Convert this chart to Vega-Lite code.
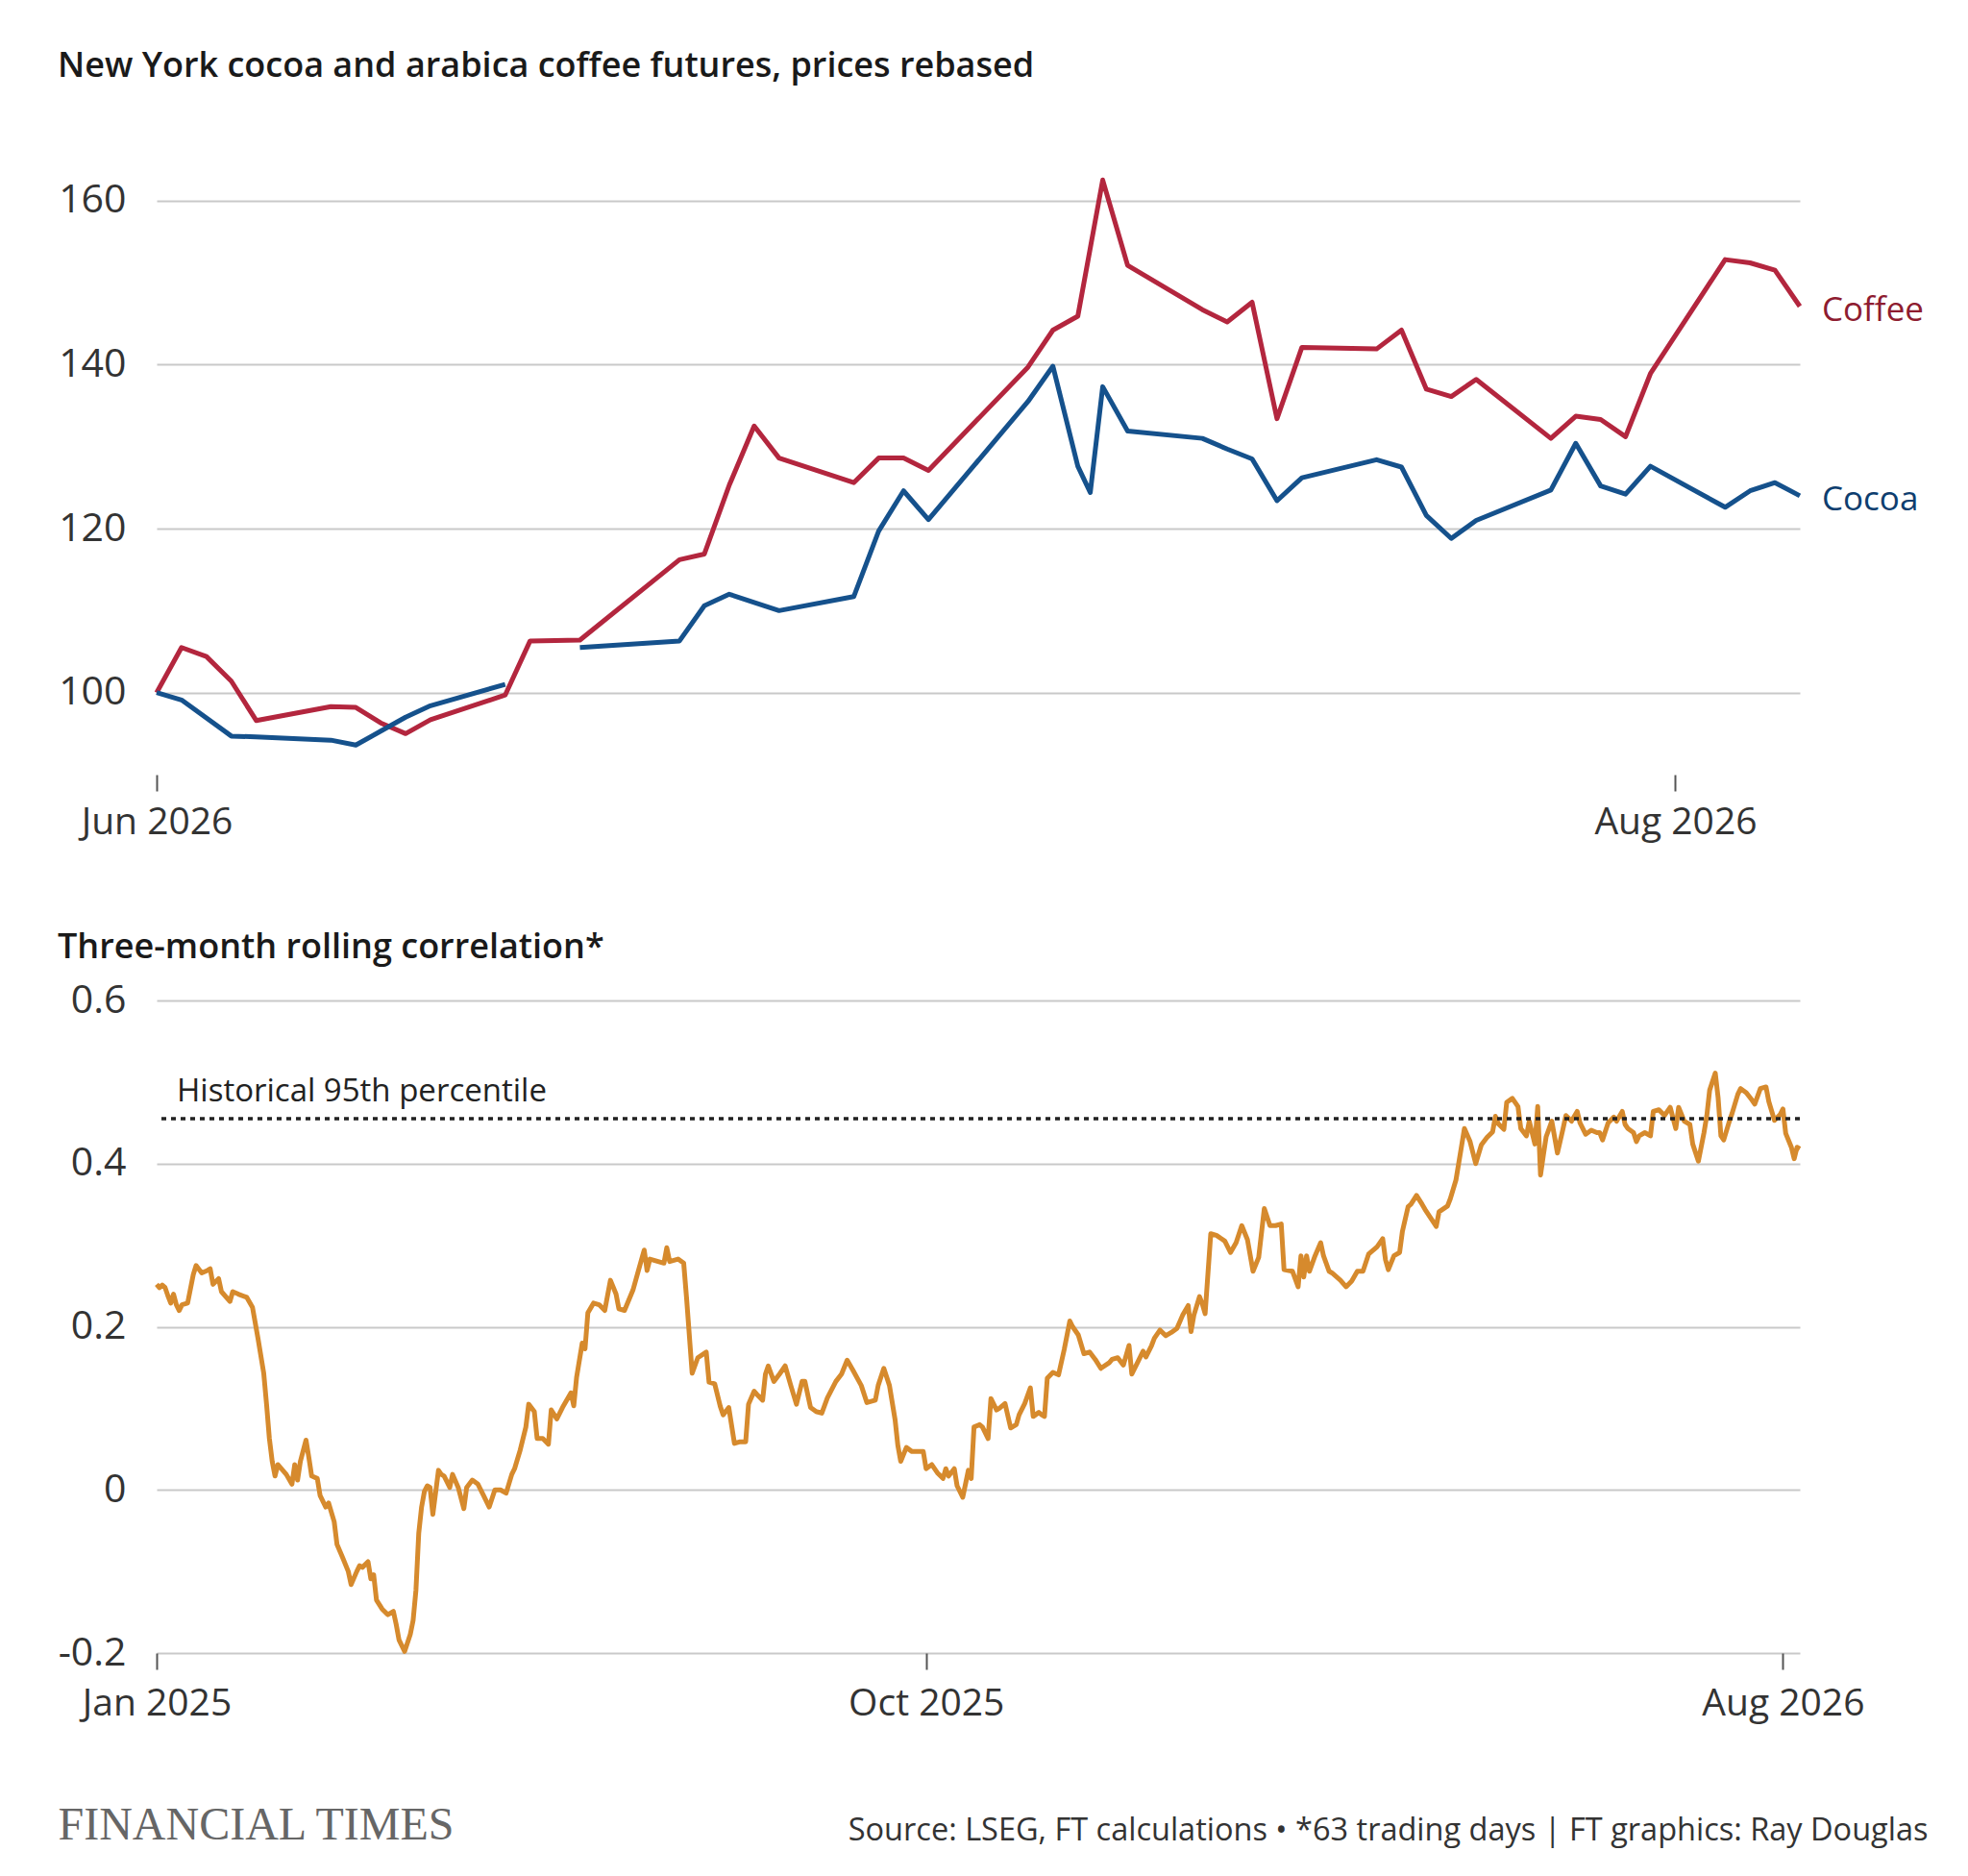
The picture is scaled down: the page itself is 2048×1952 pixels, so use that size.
{
  "$schema": "https://vega.github.io/schema/vega-lite/v6.json",
  "background": "white",
  "padding": {"left": 60, "top": 51, "right": 40, "bottom": 30},
  "bounds": "flush",
  "spacing": 235,
  "config": {
    "font": "Open Sans",
    "view": {"stroke": null},
    "axis": {"labelFont": "Open Sans", "labelFlush": false, "labelOverlap": false, "labelBound": false}
  },
  "vconcat": [
    {
      "width": 1710,
      "height": 640,
      "title": {
        "text": "New York cocoa and arabica coffee futures, prices rebased",
        "anchor": "start",
        "frame": "group",
        "dx": -103,
        "offset": 50,
        "baseline": "alphabetic",
        "font": "Open Sans",
        "fontSize": 36,
        "fontWeight": 600,
        "color": "#1a1a1a"
      },
      "data": {
        "values": [
          {"date": "2026-06-01", "series": "Coffee", "value": 100},
          {"date": "2026-06-02", "series": "Coffee", "value": 105.5},
          {"date": "2026-06-03", "series": "Coffee", "value": 104.4},
          {"date": "2026-06-04", "series": "Coffee", "value": 101.4},
          {"date": "2026-06-05", "series": "Coffee", "value": 96.6},
          {"date": "2026-06-08", "series": "Coffee", "value": 98.3},
          {"date": "2026-06-09", "series": "Coffee", "value": 98.2},
          {"date": "2026-06-10", "series": "Coffee", "value": 96.3},
          {"date": "2026-06-11", "series": "Coffee", "value": 95.0},
          {"date": "2026-06-12", "series": "Coffee", "value": 96.7},
          {"date": "2026-06-15", "series": "Coffee", "value": 99.7},
          {"date": "2026-06-16", "series": "Coffee", "value": 106.3},
          {"date": "2026-06-18", "series": "Coffee", "value": 106.4},
          {"date": "2026-06-22", "series": "Coffee", "value": 116.2},
          {"date": "2026-06-23", "series": "Coffee", "value": 116.9},
          {"date": "2026-06-24", "series": "Coffee", "value": 125.3},
          {"date": "2026-06-25", "series": "Coffee", "value": 132.5},
          {"date": "2026-06-26", "series": "Coffee", "value": 128.6},
          {"date": "2026-06-29", "series": "Coffee", "value": 125.6},
          {"date": "2026-06-30", "series": "Coffee", "value": 128.6},
          {"date": "2026-07-01", "series": "Coffee", "value": 128.6},
          {"date": "2026-07-02", "series": "Coffee", "value": 127.1},
          {"date": "2026-07-06", "series": "Coffee", "value": 139.7},
          {"date": "2026-07-07", "series": "Coffee", "value": 144.2},
          {"date": "2026-07-08", "series": "Coffee", "value": 145.9},
          {"date": "2026-07-09", "series": "Coffee", "value": 162.5},
          {"date": "2026-07-10", "series": "Coffee", "value": 152.1},
          {"date": "2026-07-13", "series": "Coffee", "value": 146.7},
          {"date": "2026-07-14", "series": "Coffee", "value": 145.2},
          {"date": "2026-07-15", "series": "Coffee", "value": 147.6},
          {"date": "2026-07-16", "series": "Coffee", "value": 133.4},
          {"date": "2026-07-17", "series": "Coffee", "value": 142.1},
          {"date": "2026-07-20", "series": "Coffee", "value": 141.9},
          {"date": "2026-07-21", "series": "Coffee", "value": 144.2},
          {"date": "2026-07-22", "series": "Coffee", "value": 137.0},
          {"date": "2026-07-23", "series": "Coffee", "value": 136.1},
          {"date": "2026-07-24", "series": "Coffee", "value": 138.2},
          {"date": "2026-07-27", "series": "Coffee", "value": 131.0},
          {"date": "2026-07-28", "series": "Coffee", "value": 133.7},
          {"date": "2026-07-29", "series": "Coffee", "value": 133.3},
          {"date": "2026-07-30", "series": "Coffee", "value": 131.2},
          {"date": "2026-07-31", "series": "Coffee", "value": 138.9},
          {"date": "2026-08-03", "series": "Coffee", "value": 152.8},
          {"date": "2026-08-04", "series": "Coffee", "value": 152.4},
          {"date": "2026-08-05", "series": "Coffee", "value": 151.5},
          {"date": "2026-08-06", "series": "Coffee", "value": 147.1},
          {"date": "2026-06-01", "series": "Cocoa", "value": 100},
          {"date": "2026-06-02", "series": "Cocoa", "value": 99.1},
          {"date": "2026-06-04", "series": "Cocoa", "value": 94.7},
          {"date": "2026-06-05", "series": "Cocoa", "value": 94.6},
          {"date": "2026-06-08", "series": "Cocoa", "value": 94.2},
          {"date": "2026-06-09", "series": "Cocoa", "value": 93.6},
          {"date": "2026-06-10", "series": "Cocoa", "value": 95.3},
          {"date": "2026-06-11", "series": "Cocoa", "value": 97.0},
          {"date": "2026-06-12", "series": "Cocoa", "value": 98.4},
          {"date": "2026-06-15", "series": "Cocoa", "value": 101.0},
          {"date": "2026-06-16", "series": "Cocoa", "value": null},
          {"date": "2026-06-18", "series": "Cocoa", "value": 105.5},
          {"date": "2026-06-22", "series": "Cocoa", "value": 106.3},
          {"date": "2026-06-23", "series": "Cocoa", "value": 110.6},
          {"date": "2026-06-24", "series": "Cocoa", "value": 112.0},
          {"date": "2026-06-25", "series": "Cocoa", "value": 111.0},
          {"date": "2026-06-26", "series": "Cocoa", "value": 110.0},
          {"date": "2026-06-29", "series": "Cocoa", "value": 111.7},
          {"date": "2026-06-30", "series": "Cocoa", "value": 119.7},
          {"date": "2026-07-01", "series": "Cocoa", "value": 124.6},
          {"date": "2026-07-02", "series": "Cocoa", "value": 121.1},
          {"date": "2026-07-06", "series": "Cocoa", "value": 135.5},
          {"date": "2026-07-07", "series": "Cocoa", "value": 139.8},
          {"date": "2026-07-08", "series": "Cocoa", "value": 127.6},
          {"date": "2026-07-08T12:00:00Z", "series": "Cocoa", "value": 124.4},
          {"date": "2026-07-09", "series": "Cocoa", "value": 137.3},
          {"date": "2026-07-10", "series": "Cocoa", "value": 131.9},
          {"date": "2026-07-13", "series": "Cocoa", "value": 131.0},
          {"date": "2026-07-14", "series": "Cocoa", "value": 129.7},
          {"date": "2026-07-15", "series": "Cocoa", "value": 128.5},
          {"date": "2026-07-16", "series": "Cocoa", "value": 123.4},
          {"date": "2026-07-17", "series": "Cocoa", "value": 126.2},
          {"date": "2026-07-20", "series": "Cocoa", "value": 128.4},
          {"date": "2026-07-21", "series": "Cocoa", "value": 127.5},
          {"date": "2026-07-22", "series": "Cocoa", "value": 121.6},
          {"date": "2026-07-23", "series": "Cocoa", "value": 118.8},
          {"date": "2026-07-24", "series": "Cocoa", "value": 121.0},
          {"date": "2026-07-27", "series": "Cocoa", "value": 124.7},
          {"date": "2026-07-28", "series": "Cocoa", "value": 130.4},
          {"date": "2026-07-29", "series": "Cocoa", "value": 125.2},
          {"date": "2026-07-30", "series": "Cocoa", "value": 124.2},
          {"date": "2026-07-31", "series": "Cocoa", "value": 127.6},
          {"date": "2026-08-03", "series": "Cocoa", "value": 122.6},
          {"date": "2026-08-04", "series": "Cocoa", "value": 124.6},
          {"date": "2026-08-05", "series": "Cocoa", "value": 125.6},
          {"date": "2026-08-06", "series": "Cocoa", "value": 124.0}
        ]
      },
      "layer": [
        {
          "mark": {"type": "line", "strokeWidth": 5, "strokeJoin": "round", "invalid": "break-paths-show-domains"},
          "encoding": {
            "x": {
              "field": "date",
              "type": "temporal",
              "scale": {"type": "utc", "domain": [{"year": 2026, "month": 6, "date": 1, "utc": true}, {"year": 2026, "month": 8, "date": 6, "utc": true}]},
              "axis": {
                "values": [{"year": 2026, "month": 6, "date": 1, "utc": true}, {"year": 2026, "month": 8, "date": 1, "utc": true}],
                "format": "%b %Y",
                "title": null,
                "domain": false,
                "grid": false,
                "tickSize": 17,
                "tickWidth": 2,
                "tickColor": "#555555",
                "labelFontSize": 39,
                "labelColor": "#333333",
                "labelPadding": 13
              }
            },
            "y": {
              "field": "value",
              "type": "quantitative",
              "scale": {"domain": [90, 165], "nice": false, "zero": false},
              "axis": {
                "values": [100, 120, 140, 160],
                "title": null,
                "domain": false,
                "ticks": false,
                "gridColor": "#c9c9c9",
                "gridWidth": 2,
                "labelFontSize": 41,
                "labelColor": "#333333",
                "labelPadding": 32
              }
            },
            "color": {
              "field": "series",
              "type": "nominal",
              "scale": {"domain": ["Coffee", "Cocoa"], "range": ["#b3263e", "#15518c"]},
              "legend": null
            }
          }
        },
        {
          "transform": [{"filter": "time(datum.date) == utc(2026, 7, 6)"}],
          "mark": {"type": "text", "align": "left", "baseline": "middle", "dx": 23, "dy": 4, "fontSize": 35, "font": "Open Sans"},
          "encoding": {
            "x": {"field": "date", "type": "temporal"},
            "y": {"field": "value", "type": "quantitative"},
            "text": {"field": "series"},
            "color": {"condition": {"test": "datum.series == 'Coffee'", "value": "#8e1c30"}, "value": "#0e3e6f"}
          }
        }
      ]
    },
    {
      "width": 1710,
      "height": 679,
      "title": {
        "text": "Three-month rolling correlation*",
        "anchor": "start",
        "frame": "group",
        "dx": -103,
        "offset": -13,
        "baseline": "alphabetic",
        "font": "Open Sans",
        "fontSize": 36,
        "fontWeight": 600,
        "color": "#1a1a1a"
      },
      "layer": [
        {
          "data": {
            "values": [
              {"d": "2025-01-01", "r": 0.252}, {"d": "2025-01-02", "r": 0.248}, {"d": "2025-01-03", "r": 0.251}, {"d": "2025-01-04", "r": 0.248},
              {"d": "2025-01-05", "r": 0.238}, {"d": "2025-01-06", "r": 0.229}, {"d": "2025-01-07", "r": 0.240}, {"d": "2025-01-08", "r": 0.227},
              {"d": "2025-01-09", "r": 0.220}, {"d": "2025-01-10", "r": 0.227}, {"d": "2025-01-12", "r": 0.229}, {"d": "2025-01-14", "r": 0.264},
              {"d": "2025-01-15", "r": 0.275}, {"d": "2025-01-17", "r": 0.266}, {"d": "2025-01-19", "r": 0.269}, {"d": "2025-01-20", "r": 0.271},
              {"d": "2025-01-21", "r": 0.252}, {"d": "2025-01-23", "r": 0.259}, {"d": "2025-01-24", "r": 0.243}, {"d": "2025-01-27", "r": 0.231},
              {"d": "2025-01-28", "r": 0.243}, {"d": "2025-01-30", "r": 0.240}, {"d": "2025-02-02", "r": 0.236}, {"d": "2025-02-04", "r": 0.224},
              {"d": "2025-02-06", "r": 0.185}, {"d": "2025-02-08", "r": 0.143}, {"d": "2025-02-09", "r": 0.105}, {"d": "2025-02-10", "r": 0.063},
              {"d": "2025-02-11", "r": 0.035}, {"d": "2025-02-12", "r": 0.017}, {"d": "2025-02-13", "r": 0.031}, {"d": "2025-02-16", "r": 0.019},
              {"d": "2025-02-18", "r": 0.007}, {"d": "2025-02-19", "r": 0.031}, {"d": "2025-02-20", "r": 0.012}, {"d": "2025-02-21", "r": 0.035},
              {"d": "2025-02-23", "r": 0.061}, {"d": "2025-02-24", "r": 0.040}, {"d": "2025-02-25", "r": 0.017}, {"d": "2025-02-27", "r": 0.014},
              {"d": "2025-02-28", "r": -0.007}, {"d": "2025-03-02", "r": -0.021}, {"d": "2025-03-03", "r": -0.016}, {"d": "2025-03-05", "r": -0.039},
              {"d": "2025-03-06", "r": -0.067}, {"d": "2025-03-08", "r": -0.083}, {"d": "2025-03-10", "r": -0.100}, {"d": "2025-03-11", "r": -0.116},
              {"d": "2025-03-13", "r": -0.100}, {"d": "2025-03-14", "r": -0.093}, {"d": "2025-03-15", "r": -0.095}, {"d": "2025-03-17", "r": -0.088},
              {"d": "2025-03-18", "r": -0.109}, {"d": "2025-03-19", "r": -0.104}, {"d": "2025-03-20", "r": -0.135}, {"d": "2025-03-22", "r": -0.146},
              {"d": "2025-03-24", "r": -0.153}, {"d": "2025-03-26", "r": -0.149}, {"d": "2025-03-27", "r": -0.165}, {"d": "2025-03-28", "r": -0.184},
              {"d": "2025-03-30", "r": -0.198}, {"d": "2025-04-01", "r": -0.177}, {"d": "2025-04-02", "r": -0.160}, {"d": "2025-04-03", "r": -0.123},
              {"d": "2025-04-04", "r": -0.053}, {"d": "2025-04-05", "r": -0.021}, {"d": "2025-04-06", "r": -0.002}, {"d": "2025-04-07", "r": 0.005},
              {"d": "2025-04-08", "r": 0.003}, {"d": "2025-04-09", "r": -0.030}, {"d": "2025-04-11", "r": 0.024}, {"d": "2025-04-12", "r": 0.019},
              {"d": "2025-04-13", "r": 0.017}, {"d": "2025-04-15", "r": 0.003}, {"d": "2025-04-16", "r": 0.019}, {"d": "2025-04-18", "r": 0.003},
              {"d": "2025-04-20", "r": -0.023}, {"d": "2025-04-21", "r": 0.003}, {"d": "2025-04-23", "r": 0.012}, {"d": "2025-04-25", "r": 0.007},
              {"d": "2025-04-27", "r": -0.007}, {"d": "2025-04-29", "r": -0.021}, {"d": "2025-05-01", "r": 0.000}, {"d": "2025-05-03", "r": 0.000},
              {"d": "2025-05-05", "r": -0.004}, {"d": "2025-05-07", "r": 0.019}, {"d": "2025-05-08", "r": 0.026}, {"d": "2025-05-10", "r": 0.049},
              {"d": "2025-05-12", "r": 0.077}, {"d": "2025-05-13", "r": 0.105}, {"d": "2025-05-15", "r": 0.096}, {"d": "2025-05-16", "r": 0.063},
              {"d": "2025-05-18", "r": 0.063}, {"d": "2025-05-20", "r": 0.056}, {"d": "2025-05-21", "r": 0.098}, {"d": "2025-05-23", "r": 0.087},
              {"d": "2025-05-25", "r": 0.101}, {"d": "2025-05-28", "r": 0.119}, {"d": "2025-05-29", "r": 0.103}, {"d": "2025-05-30", "r": 0.138},
              {"d": "2025-06-01", "r": 0.180}, {"d": "2025-06-02", "r": 0.173}, {"d": "2025-06-03", "r": 0.217}, {"d": "2025-06-05", "r": 0.229},
              {"d": "2025-06-07", "r": 0.227}, {"d": "2025-06-09", "r": 0.220}, {"d": "2025-06-11", "r": 0.257}, {"d": "2025-06-13", "r": 0.240},
              {"d": "2025-06-14", "r": 0.222}, {"d": "2025-06-16", "r": 0.220}, {"d": "2025-06-19", "r": 0.245}, {"d": "2025-06-22", "r": 0.282},
              {"d": "2025-06-23", "r": 0.294}, {"d": "2025-06-24", "r": 0.269}, {"d": "2025-06-25", "r": 0.283}, {"d": "2025-06-30", "r": 0.278},
              {"d": "2025-07-01", "r": 0.297}, {"d": "2025-07-02", "r": 0.280}, {"d": "2025-07-05", "r": 0.283}, {"d": "2025-07-07", "r": 0.278},
              {"d": "2025-07-08", "r": 0.236}, {"d": "2025-07-10", "r": 0.143}, {"d": "2025-07-12", "r": 0.162}, {"d": "2025-07-15", "r": 0.169},
              {"d": "2025-07-16", "r": 0.132}, {"d": "2025-07-18", "r": 0.130}, {"d": "2025-07-20", "r": 0.102}, {"d": "2025-07-21", "r": 0.092},
              {"d": "2025-07-23", "r": 0.101}, {"d": "2025-07-25", "r": 0.057}, {"d": "2025-07-27", "r": 0.059}, {"d": "2025-07-29", "r": 0.059},
              {"d": "2025-07-30", "r": 0.105}, {"d": "2025-08-01", "r": 0.121}, {"d": "2025-08-02", "r": 0.117}, {"d": "2025-08-04", "r": 0.110},
              {"d": "2025-08-05", "r": 0.142}, {"d": "2025-08-06", "r": 0.152}, {"d": "2025-08-08", "r": 0.133}, {"d": "2025-08-10", "r": 0.142},
              {"d": "2025-08-12", "r": 0.152}, {"d": "2025-08-14", "r": 0.128}, {"d": "2025-08-16", "r": 0.105}, {"d": "2025-08-18", "r": 0.133},
              {"d": "2025-08-19", "r": 0.133}, {"d": "2025-08-21", "r": 0.101}, {"d": "2025-08-23", "r": 0.096}, {"d": "2025-08-25", "r": 0.094},
              {"d": "2025-08-27", "r": 0.113}, {"d": "2025-08-30", "r": 0.133}, {"d": "2025-09-01", "r": 0.142}, {"d": "2025-09-03", "r": 0.159},
              {"d": "2025-09-05", "r": 0.147}, {"d": "2025-09-08", "r": 0.128}, {"d": "2025-09-10", "r": 0.107}, {"d": "2025-09-13", "r": 0.110},
              {"d": "2025-09-14", "r": 0.128}, {"d": "2025-09-16", "r": 0.149}, {"d": "2025-09-18", "r": 0.128}, {"d": "2025-09-20", "r": 0.086},
              {"d": "2025-09-21", "r": 0.054}, {"d": "2025-09-22", "r": 0.035}, {"d": "2025-09-24", "r": 0.052}, {"d": "2025-09-26", "r": 0.047},
              {"d": "2025-09-30", "r": 0.047}, {"d": "2025-10-01", "r": 0.026}, {"d": "2025-10-03", "r": 0.031}, {"d": "2025-10-05", "r": 0.021},
              {"d": "2025-10-07", "r": 0.014}, {"d": "2025-10-08", "r": 0.026}, {"d": "2025-10-09", "r": 0.017}, {"d": "2025-10-11", "r": 0.026},
              {"d": "2025-10-12", "r": 0.005}, {"d": "2025-10-14", "r": -0.009}, {"d": "2025-10-16", "r": 0.024}, {"d": "2025-10-17", "r": 0.014},
              {"d": "2025-10-18", "r": 0.077}, {"d": "2025-10-20", "r": 0.080}, {"d": "2025-10-21", "r": 0.077}, {"d": "2025-10-23", "r": 0.063},
              {"d": "2025-10-24", "r": 0.112}, {"d": "2025-10-26", "r": 0.098}, {"d": "2025-10-27", "r": 0.100}, {"d": "2025-10-29", "r": 0.106},
              {"d": "2025-10-31", "r": 0.076}, {"d": "2025-11-02", "r": 0.080}, {"d": "2025-11-03", "r": 0.092}, {"d": "2025-11-05", "r": 0.106},
              {"d": "2025-11-07", "r": 0.125}, {"d": "2025-11-08", "r": 0.090}, {"d": "2025-11-10", "r": 0.095}, {"d": "2025-11-11", "r": 0.092},
              {"d": "2025-11-12", "r": 0.090}, {"d": "2025-11-13", "r": 0.137}, {"d": "2025-11-15", "r": 0.144}, {"d": "2025-11-17", "r": 0.141},
              {"d": "2025-11-19", "r": 0.172}, {"d": "2025-11-21", "r": 0.207}, {"d": "2025-11-22", "r": 0.200}, {"d": "2025-11-24", "r": 0.190},
              {"d": "2025-11-26", "r": 0.167}, {"d": "2025-11-28", "r": 0.169}, {"d": "2025-11-30", "r": 0.160}, {"d": "2025-12-02", "r": 0.149},
              {"d": "2025-12-05", "r": 0.156}, {"d": "2025-12-06", "r": 0.160}, {"d": "2025-12-08", "r": 0.162}, {"d": "2025-12-10", "r": 0.153},
              {"d": "2025-12-12", "r": 0.177}, {"d": "2025-12-13", "r": 0.142}, {"d": "2025-12-15", "r": 0.156}, {"d": "2025-12-17", "r": 0.170},
              {"d": "2025-12-18", "r": 0.163}, {"d": "2025-12-20", "r": 0.177}, {"d": "2025-12-21", "r": 0.186}, {"d": "2025-12-23", "r": 0.196},
              {"d": "2025-12-25", "r": 0.189}, {"d": "2025-12-27", "r": 0.193}, {"d": "2025-12-29", "r": 0.198}, {"d": "2025-12-31", "r": 0.214},
              {"d": "2026-01-02", "r": 0.226}, {"d": "2026-01-03", "r": 0.194}, {"d": "2026-01-04", "r": 0.214}, {"d": "2026-01-06", "r": 0.237},
              {"d": "2026-01-07", "r": 0.228}, {"d": "2026-01-08", "r": 0.216}, {"d": "2026-01-10", "r": 0.314}, {"d": "2026-01-12", "r": 0.312},
              {"d": "2026-01-15", "r": 0.305}, {"d": "2026-01-17", "r": 0.291}, {"d": "2026-01-19", "r": 0.303}, {"d": "2026-01-21", "r": 0.324},
              {"d": "2026-01-23", "r": 0.307}, {"d": "2026-01-25", "r": 0.268}, {"d": "2026-01-27", "r": 0.285}, {"d": "2026-01-29", "r": 0.345},
              {"d": "2026-01-31", "r": 0.324}, {"d": "2026-02-02", "r": 0.324}, {"d": "2026-02-04", "r": 0.326}, {"d": "2026-02-05", "r": 0.270},
              {"d": "2026-02-08", "r": 0.268}, {"d": "2026-02-10", "r": 0.249}, {"d": "2026-02-11", "r": 0.287}, {"d": "2026-02-12", "r": 0.261},
              {"d": "2026-02-13", "r": 0.287}, {"d": "2026-02-14", "r": 0.268}, {"d": "2026-02-16", "r": 0.287}, {"d": "2026-02-18", "r": 0.303},
              {"d": "2026-02-19", "r": 0.287}, {"d": "2026-02-21", "r": 0.268}, {"d": "2026-02-22", "r": 0.266}, {"d": "2026-02-25", "r": 0.257},
              {"d": "2026-02-27", "r": 0.249}, {"d": "2026-03-01", "r": 0.256}, {"d": "2026-03-03", "r": 0.268}, {"d": "2026-03-05", "r": 0.268},
              {"d": "2026-03-07", "r": 0.289}, {"d": "2026-03-10", "r": 0.298}, {"d": "2026-03-12", "r": 0.308}, {"d": "2026-03-13", "r": 0.282},
              {"d": "2026-03-14", "r": 0.270}, {"d": "2026-03-16", "r": 0.287}, {"d": "2026-03-18", "r": 0.291}, {"d": "2026-03-19", "r": 0.317},
              {"d": "2026-03-21", "r": 0.347}, {"d": "2026-03-22", "r": 0.350}, {"d": "2026-03-24", "r": 0.361}, {"d": "2026-03-26", "r": 0.350},
              {"d": "2026-03-27", "r": 0.344}, {"d": "2026-03-31", "r": 0.323}, {"d": "2026-04-01", "r": 0.341}, {"d": "2026-04-04", "r": 0.348},
              {"d": "2026-04-05", "r": 0.357}, {"d": "2026-04-07", "r": 0.380}, {"d": "2026-04-09", "r": 0.422}, {"d": "2026-04-10", "r": 0.443},
              {"d": "2026-04-12", "r": 0.427}, {"d": "2026-04-14", "r": 0.400}, {"d": "2026-04-16", "r": 0.423}, {"d": "2026-04-18", "r": 0.432},
              {"d": "2026-04-20", "r": 0.439}, {"d": "2026-04-21", "r": 0.458}, {"d": "2026-04-22", "r": 0.449}, {"d": "2026-04-24", "r": 0.442},
              {"d": "2026-04-25", "r": 0.475}, {"d": "2026-04-27", "r": 0.480}, {"d": "2026-04-29", "r": 0.470}, {"d": "2026-04-30", "r": 0.443},
              {"d": "2026-05-02", "r": 0.434}, {"d": "2026-05-03", "r": 0.452}, {"d": "2026-05-04", "r": 0.438}, {"d": "2026-05-05", "r": 0.424},
              {"d": "2026-05-06", "r": 0.470}, {"d": "2026-05-07", "r": 0.386}, {"d": "2026-05-08", "r": 0.410}, {"d": "2026-05-09", "r": 0.433},
              {"d": "2026-05-11", "r": 0.452}, {"d": "2026-05-13", "r": 0.413}, {"d": "2026-05-15", "r": 0.443}, {"d": "2026-05-16", "r": 0.459},
              {"d": "2026-05-18", "r": 0.452}, {"d": "2026-05-20", "r": 0.464}, {"d": "2026-05-21", "r": 0.450}, {"d": "2026-05-23", "r": 0.436},
              {"d": "2026-05-25", "r": 0.441}, {"d": "2026-05-27", "r": 0.438}, {"d": "2026-05-28", "r": 0.438}, {"d": "2026-05-29", "r": 0.429},
              {"d": "2026-05-31", "r": 0.450}, {"d": "2026-06-02", "r": 0.457}, {"d": "2026-06-03", "r": 0.452}, {"d": "2026-06-05", "r": 0.464},
              {"d": "2026-06-06", "r": 0.448}, {"d": "2026-06-07", "r": 0.443}, {"d": "2026-06-09", "r": 0.438}, {"d": "2026-06-10", "r": 0.427},
              {"d": "2026-06-11", "r": 0.434}, {"d": "2026-06-13", "r": 0.438}, {"d": "2026-06-15", "r": 0.434}, {"d": "2026-06-16", "r": 0.464},
              {"d": "2026-06-18", "r": 0.466}, {"d": "2026-06-20", "r": 0.459}, {"d": "2026-06-22", "r": 0.469}, {"d": "2026-06-24", "r": 0.443},
              {"d": "2026-06-25", "r": 0.469}, {"d": "2026-06-27", "r": 0.452}, {"d": "2026-06-29", "r": 0.448}, {"d": "2026-06-30", "r": 0.424},
              {"d": "2026-07-02", "r": 0.403}, {"d": "2026-07-04", "r": 0.438}, {"d": "2026-07-05", "r": 0.459}, {"d": "2026-07-06", "r": 0.490},
              {"d": "2026-07-08", "r": 0.511}, {"d": "2026-07-09", "r": 0.481}, {"d": "2026-07-10", "r": 0.434}, {"d": "2026-07-11", "r": 0.429},
              {"d": "2026-07-13", "r": 0.452}, {"d": "2026-07-14", "r": 0.462}, {"d": "2026-07-16", "r": 0.485}, {"d": "2026-07-17", "r": 0.492},
              {"d": "2026-07-19", "r": 0.487}, {"d": "2026-07-21", "r": 0.478}, {"d": "2026-07-22", "r": 0.473}, {"d": "2026-07-24", "r": 0.492},
              {"d": "2026-07-26", "r": 0.494}, {"d": "2026-07-27", "r": 0.476}, {"d": "2026-07-29", "r": 0.453}, {"d": "2026-07-31", "r": 0.460},
              {"d": "2026-08-01", "r": 0.467}, {"d": "2026-08-02", "r": 0.437}, {"d": "2026-08-04", "r": 0.420}, {"d": "2026-08-05", "r": 0.406},
              {"d": "2026-08-06", "r": 0.420}, {"d": "2026-08-07", "r": 0.418}
            ]
          },
          "mark": {"type": "line", "strokeWidth": 5, "strokeJoin": "round", "color": "#d68a2d"},
          "encoding": {
            "x": {
              "field": "d",
              "type": "temporal",
              "scale": {"type": "utc", "domain": [{"year": 2025, "month": 1, "date": 1, "utc": true}, {"year": 2026, "month": 8, "date": 7, "utc": true}]},
              "axis": {
                "values": [{"year": 2025, "month": 1, "date": 1, "utc": true}, {"year": 2025, "month": 10, "date": 1, "utc": true}, {"year": 2026, "month": 8, "date": 1, "utc": true}],
                "format": "%b %Y",
                "domain": false,
                "grid": false,
                "tickSize": 17,
                "tickWidth": 2,
                "tickColor": "#555555",
                "labelFontSize": 39,
                "labelColor": "#333333",
                "labelPadding": 16,
                "title": "Source: LSEG, FT calculations • *63 trading days | FT graphics: Ray Douglas",
                "titleX": 1843,
                "titleY": 194,
                "titleAlign": "right",
                "titleBaseline": "alphabetic",
                "titleFont": "Open Sans",
                "titleFontSize": 32.5,
                "titleFontWeight": "normal",
                "titleColor": "#333333"
              }
            },
            "y": {
              "field": "r",
              "type": "quantitative",
              "scale": {"domain": [-0.2, 0.6], "nice": false, "zero": false},
              "axis": {
                "values": [-0.2, 0, 0.2, 0.4, 0.6],
                "labelExpr": "datum.value == 0 ? '0' : (datum.value < 0 ? '-' : '') + format(abs(datum.value), '.1f')",
                "domain": false,
                "ticks": false,
                "gridColor": "#c9c9c9",
                "gridWidth": 2,
                "labelFontSize": 41,
                "labelColor": "#333333",
                "labelPadding": 32,
                "title": "FINANCIAL TIMES",
                "titleAngle": 0,
                "titleX": -103,
                "titleY": 872,
                "titleAlign": "left",
                "titleBaseline": "alphabetic",
                "titleFont": "Liberation Serif",
                "titleFontSize": 48,
                "titleFontWeight": "normal",
                "titleColor": "#666666"
              }
            }
          }
        },
        {
          "data": {"values": [{"d": "2025-01-01", "r": 0.455, "label": "Historical 95th percentile"}]},
          "mark": {"type": "rule", "strokeDash": [5, 5], "strokeWidth": 3.5, "color": "#222222"},
          "encoding": {
            "y": {"field": "r", "type": "quantitative"}
          }
        },
        {
          "data": {"values": [{"d": "2025-01-01", "r": 0.455, "label": "Historical 95th percentile"}]},
          "mark": {"type": "text", "align": "left", "baseline": "alphabetic", "dx": 21, "dy": -18, "fontSize": 33, "font": "Open Sans", "color": "#222222"},
          "encoding": {
            "x": {"field": "d", "type": "temporal"},
            "y": {"field": "r", "type": "quantitative"},
            "text": {"field": "label"}
          }
        }
      ]
    }
  ]
}
